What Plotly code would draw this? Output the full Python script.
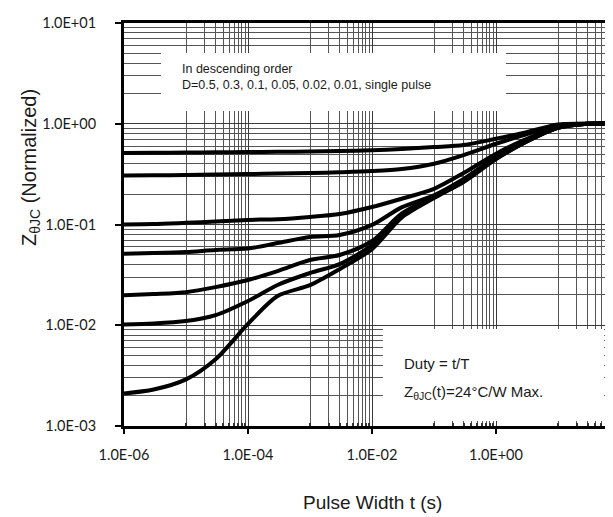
import plotly.graph_objects as go

# Pulse width (s)
t = [1e-6, 3e-6, 1e-5, 3e-5, 1e-4, 3e-4, 1e-3, 3e-3, 1e-2, 3e-2, 1e-1, 3e-1, 1, 3, 10, 30, 100]

# Normalized transient thermal impedance, one list per duty cycle
z_d050 = [0.512, 0.515, 0.518, 0.521, 0.524, 0.527, 0.530, 0.535, 0.545, 0.562, 0.587, 0.615, 0.71, 0.82, 0.985, 1.0, 1.0]
z_d030 = [0.307, 0.308, 0.310, 0.313, 0.317, 0.320, 0.324, 0.330, 0.339, 0.355, 0.401, 0.489, 0.633, 0.78, 0.965, 1.0, 1.0]
z_d010 = [0.100, 0.101, 0.104, 0.107, 0.111, 0.113, 0.119, 0.127, 0.149, 0.180, 0.226, 0.324, 0.504, 0.70, 0.93, 1.0, 1.0]
z_d005 = [0.0513, 0.052, 0.0533, 0.0558, 0.0577, 0.0654, 0.075, 0.0786, 0.099, 0.148, 0.195, 0.283, 0.467, 0.68, 0.92, 1.0, 1.0]
z_d002 = [0.0198, 0.0204, 0.0213, 0.0239, 0.0281, 0.0345, 0.0444, 0.0498, 0.0685, 0.128, 0.190, 0.272, 0.456, 0.665, 0.91, 1.0, 1.0]
z_d001 = [0.0102, 0.0104, 0.0110, 0.0126, 0.0174, 0.0251, 0.0330, 0.0405, 0.0625, 0.122, 0.186, 0.268, 0.450, 0.66, 0.91, 1.0, 1.0]
z_single = [0.0021, 0.0023, 0.0029, 0.0046, 0.0103, 0.0195, 0.025, 0.036, 0.057, 0.117, 0.183, 0.264, 0.445, 0.655, 0.91, 1.0, 1.0]

series = [z_d050, z_d030, z_d010, z_d005, z_d002, z_d001, z_single]
series_names = ["D=0.5", "D=0.3", "D=0.1", "D=0.05", "D=0.02", "D=0.01", "single pulse"]

x_tickvals = [1e-6, 1e-4, 1e-2, 1e0]
x_ticktext = ["1.0E-06", "1.0E-04", "1.0E-02", "1.0E+00"]
y_tickvals = [1e-3, 1e-2, 1e-1, 1e0, 1e1]
y_ticktext = ["1.0E-03", "1.0E-02", "1.0E-01", "1.0E+00", "1.0E+01"]

x_minor = [m * 10.0 ** e for e in (-5, -3, -1, 1) for m in range(1, 10)]
y_minor = [m * 10.0 ** e for e in (-3, -2, -1, 0) for m in range(2, 10)]

fig = go.Figure()
for ys, nm in zip(series, series_names):
    fig.add_trace(go.Scatter(
        x=t, y=ys, mode="lines", name=nm,
        line=dict(color="black", width=4, shape="spline", smoothing=0.8),
        showlegend=False, hoverinfo="skip"))

tick_font = dict(family="Lato", size=14.5, color="#1a1a1a")
title_font = dict(family="Liberation Sans, Arial", size=19, color="#1a1a1a")
ytitle_font = dict(family="Liberation Sans, Arial", size=20, color="#1a1a1a")

fig.update_layout(
    width=613, height=517,
    margin=dict(l=116, r=1, t=15, b=99),
    paper_bgcolor="white", plot_bgcolor="white",
    showlegend=False,
    xaxis=dict(
        type="log", range=[-6, 2],
        tickmode="array", tickvals=x_tickvals, ticktext=x_ticktext,
        tickfont=tick_font, ticks="outside", ticklen=5, tickwidth=2, tickcolor="black",
        ticklabelstandoff=9,
        showline=True, linewidth=3, linecolor="black", mirror=True,
        showgrid=True, gridcolor="#3a3a3a", gridwidth=1,
        minor=dict(tickmode="array", tickvals=x_minor, showgrid=True,
                   gridcolor="#555555", gridwidth=1,
                   ticks="inside", ticklen=3, tickcolor="#333333"),
        zeroline=False,
    ),
    yaxis=dict(
        type="log", range=[-3, 1],
        tickmode="array", tickvals=y_tickvals, ticktext=y_ticktext,
        tickfont=tick_font, ticks="outside", ticklen=6, tickwidth=2, tickcolor="black",
        ticklabelstandoff=16,
        showline=True, linewidth=3, linecolor="black",
        showgrid=True, gridcolor="#3a3a3a", gridwidth=1,
        minor=dict(tickmode="array", tickvals=y_minor, showgrid=True,
                   gridcolor="#555555", gridwidth=1),
        zeroline=False,
    ),
)

# white note boxes covering the grid
fig.add_shape(type="rect", xref="paper", yref="paper",
              x0=0.0746, x1=0.770, y0=0.7816, y1=0.9256,
              fillcolor="white", line=dict(width=0), layer="above")
fig.add_shape(type="rect", xref="paper", yref="paper",
              x0=0.522, x1=0.968, y0=0.0124, y1=0.2407,
              fillcolor="white", line=dict(width=0), layer="above")

note_font = dict(family="Liberation Sans, Arial", size=12.5, color="#1a1a1a")
fig.add_annotation(xref="paper", yref="paper", x=(172 - 116) / 496, y=(418 - 69) / 403,
                   xanchor="left", yanchor="middle", align="left", showarrow=False,
                   text="In descending order<br>D=0.5, 0.3, 0.1, 0.05, 0.02, 0.01, single pulse",
                   font=note_font)
box_font = dict(family="Liberation Sans, Arial", size=15, color="#1a1a1a")
fig.add_annotation(xref="paper", yref="paper", x=(394 - 116) / 496, y=(418 - 355) / 403,
                   xanchor="left", yanchor="middle", showarrow=False,
                   text="Duty = t/T", font=box_font)
fig.add_annotation(xref="paper", yref="paper", x=(394 - 116) / 496, y=(418 - 384) / 403,
                   xanchor="left", yanchor="middle", showarrow=False,
                   text="Z<sub>θJC</sub>(t)=24°C/W Max.", font=box_font)

# axis titles
fig.add_annotation(xref="paper", yref="paper", x=0.5, y=(418 - 495) / 403,
                   xanchor="center", yanchor="middle", showarrow=False,
                   text="Pulse Width t (s)", font=title_font)
fig.add_annotation(xref="paper", yref="paper", x=(23 - 116) / 496, y=(418 - 160) / 403,
                   xanchor="center", yanchor="middle", showarrow=False, textangle=-90,
                   text="Z<sub>θJC</sub> (Normalized)", font=ytitle_font)

fig.write_html("out.html")
